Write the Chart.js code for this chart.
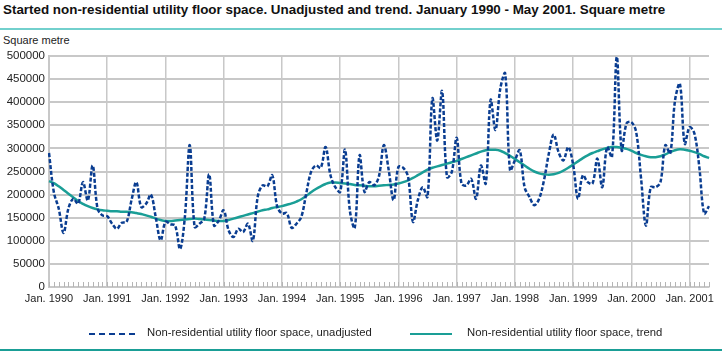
<!DOCTYPE html>
<html>
<head>
<meta charset="utf-8">
<script src="https://cdn.jsdelivr.net/npm/chart.js@4/dist/chart.umd.min.js"></script>
<style>
  html,body{margin:0;padding:0;background:#fff;}
  body{width:722px;height:353px;position:relative;overflow:hidden;font-family:"Liberation Sans",Arial,sans-serif;color:#222;}
  #title{position:absolute;left:3px;top:2px;font-weight:bold;font-size:13.4px;color:#111;white-space:nowrap;}
  #topline{position:absolute;left:0;top:28px;width:722px;height:2px;background:#72d0cd;}
  #unit{position:absolute;left:3px;top:34px;font-size:11px;color:#222;}
  #bottomline{position:absolute;left:0;top:349px;width:722px;height:2px;background:#1a9e96;}
  .leg{position:absolute;top:326px;font-size:11.3px;color:#222;white-space:nowrap;}
  .sw{position:absolute;top:333px;height:0;}
  canvas{position:absolute;left:0;top:0;}
</style>
</head>
<body>
<div id="title">Started non-residential utility floor space. Unadjusted and trend. January 1990 - May 2001. Square metre</div>
<div id="topline"></div>
<div id="unit">Square metre</div>
<canvas id="c" width="722" height="353"></canvas>
<div class="sw" style="left:89px;width:46px;border-top:2.5px dashed #0a3d91;"></div>
<div class="leg" style="left:147px;">Non-residential utility floor space, unadjusted</div>
<div class="sw" style="left:410px;width:42px;border-top:2.5px solid #1a9e96;"></div>
<div class="leg" style="left:467px;">Non-residential utility floor space, trend</div>
<div id="bottomline"></div>
<script>
// ---- data ----
const years = [1990,1991,1992,1993,1994,1995,1996,1997,1998,1999,2000,2001];
const monthAbbr = ["Jan.","Feb.","Mar.","Apr.","May","Jun.","Jul.","Aug.","Sep.","Oct.","Nov.","Dec."];
const lastMonthIndex2001 = 4; // May 2001
const categories = [];
years.forEach(y => monthAbbr.forEach((m, k) => {
  if (y < 2001 || k <= lastMonthIndex2001) categories.push(m + " " + y);
}));

const unadjusted = [
  290000,205000,170000,117000,170000,191000,180000,227000,187000,263000,170000,155000,
  153000,137000,126000,139000,141000,188000,227000,173000,180000,200000,151000,101000,
  141000,136000,133000,82000,152000,307000,130000,137000,148000,244000,133000,144000,
  166000,123000,108000,126000,119000,137000,100000,195000,220000,218000,242000,175000,
  159000,160000,128000,137000,152000,202000,249000,263000,258000,303000,242000,216000,
  206000,297000,165000,128000,285000,206000,227000,220000,240000,307000,253000,188000,
  260000,258000,238000,141000,188000,216000,195000,408000,317000,424000,238000,249000,
  323000,224000,220000,234000,191000,263000,224000,405000,340000,430000,462000,253000,
  274000,296000,216000,195000,177000,191000,231000,289000,330000,292000,274000,303000,
  265000,191000,242000,227000,224000,278000,216000,303000,281000,498000,296000,354000,
  357000,335000,235000,133000,216000,216000,227000,307000,289000,404000,440000,310000,
  346000,332000,260000,159000,175000
];
const trend = [
  229000,225000,218000,210000,202000,194000,186000,180000,175000,171000,168000,166000,
  165000,164000,164000,163000,163000,162000,160000,158000,155000,152000,148000,145000,
  143000,143000,144000,145000,146000,147000,148000,147000,146000,145000,144000,143000,
  143000,145000,148000,151000,154000,157000,160000,163000,166000,168000,171000,173000,
  175000,178000,181000,185000,190000,197000,205000,212000,218000,223000,226000,226000,
  225000,224000,223000,221000,220000,219000,218000,218000,219000,220000,221000,222000,
  224000,227000,231000,236000,242000,248000,254000,258000,261000,264000,267000,270000,
  273000,277000,281000,285000,289000,293000,296000,297000,297000,295000,290000,284000,
  277000,270000,263000,256000,250000,246000,244000,243000,244000,247000,252000,258000,
  265000,272000,279000,285000,290000,294000,298000,301000,303000,303000,301000,299000,
  295000,290000,286000,283000,281000,281000,283000,287000,292000,296000,298000,297000,
  295000,292000,288000,283000,279000
];
const yTicks = [0,50000,100000,150000,200000,250000,300000,350000,400000,450000,500000];

// ---- chart ----
const GRID = '#c8c8c8';
const minorTicks = {
  id: 'minorTicks',
  beforeDatasetsDraw(chart) {
    const xs = chart.scales.x, ys = chart.scales.y, ctx = chart.ctx;
    ctx.save();
    ctx.strokeStyle = '#b5b5b5';
    ctx.lineWidth = 1;
    for (let i = 0; i < categories.length; i++) {
      const px = Math.round(xs.getPixelForValue(i)) + 0.5;
      ctx.beginPath();
      ctx.moveTo(px, ys.bottom);
      ctx.lineTo(px, ys.bottom - 5);
      ctx.stroke();
    }
    ctx.restore();
  }
};

new Chart(document.getElementById('c'), {
  type: 'line',
  data: {
    labels: categories,
    datasets: [
      {
        label: 'Non-residential utility floor space, unadjusted',
        data: unadjusted,
        borderColor: '#0a3d91',
        borderWidth: 2.5,
        borderDash: [4, 2],
        pointRadius: 0,
        tension: 0.35,
        fill: false
      },
      {
        label: 'Non-residential utility floor space, trend',
        data: trend,
        borderColor: '#1a9e96',
        borderWidth: 2.5,
        pointRadius: 0,
        tension: 0.4,
        fill: false
      }
    ]
  },
  options: {
    responsive: false,
    animation: false,
    events: [],
    layout: { padding: { left: 0, right: 13, top: 56, bottom: 46 } },
    plugins: { legend: { display: false }, title: { display: false }, tooltip: { enabled: false } },
    scales: {
      x: {
        type: 'category',
        offset: false,
        afterFit(s) { s.height = 20; },
        border: { display: true, color: GRID, width: 2 },
        grid: {
          drawTicks: false,
          lineWidth: 1.5,
          color: (c) => (c.index % 12 === 0 ? GRID : 'rgba(0,0,0,0)')
        },
        ticks: {
          autoSkip: false,
          maxRotation: 0,
          minRotation: 0,
          padding: 5,
          color: '#222',
          font: { family: 'Liberation Sans', size: 11 },
          callback: (v, i) => (i % 12 === 0 ? categories[i] : '')
        }
      },
      y: {
        min: 0,
        max: 500000,
        afterFit(s) { s.width = 49; },
        afterBuildTicks(s) { s.ticks = yTicks.map(v => ({ value: v })); },
        border: { display: true, color: GRID, width: 2 },
        grid: { drawTicks: false, color: GRID, lineWidth: 2 },
        ticks: {
          padding: 4,
          color: '#222',
          font: { family: 'Liberation Sans', size: 11.5 },
          callback: (v) => String(v)
        }
      }
    }
  },
  plugins: [minorTicks]
});
</script>
</body>
</html>
